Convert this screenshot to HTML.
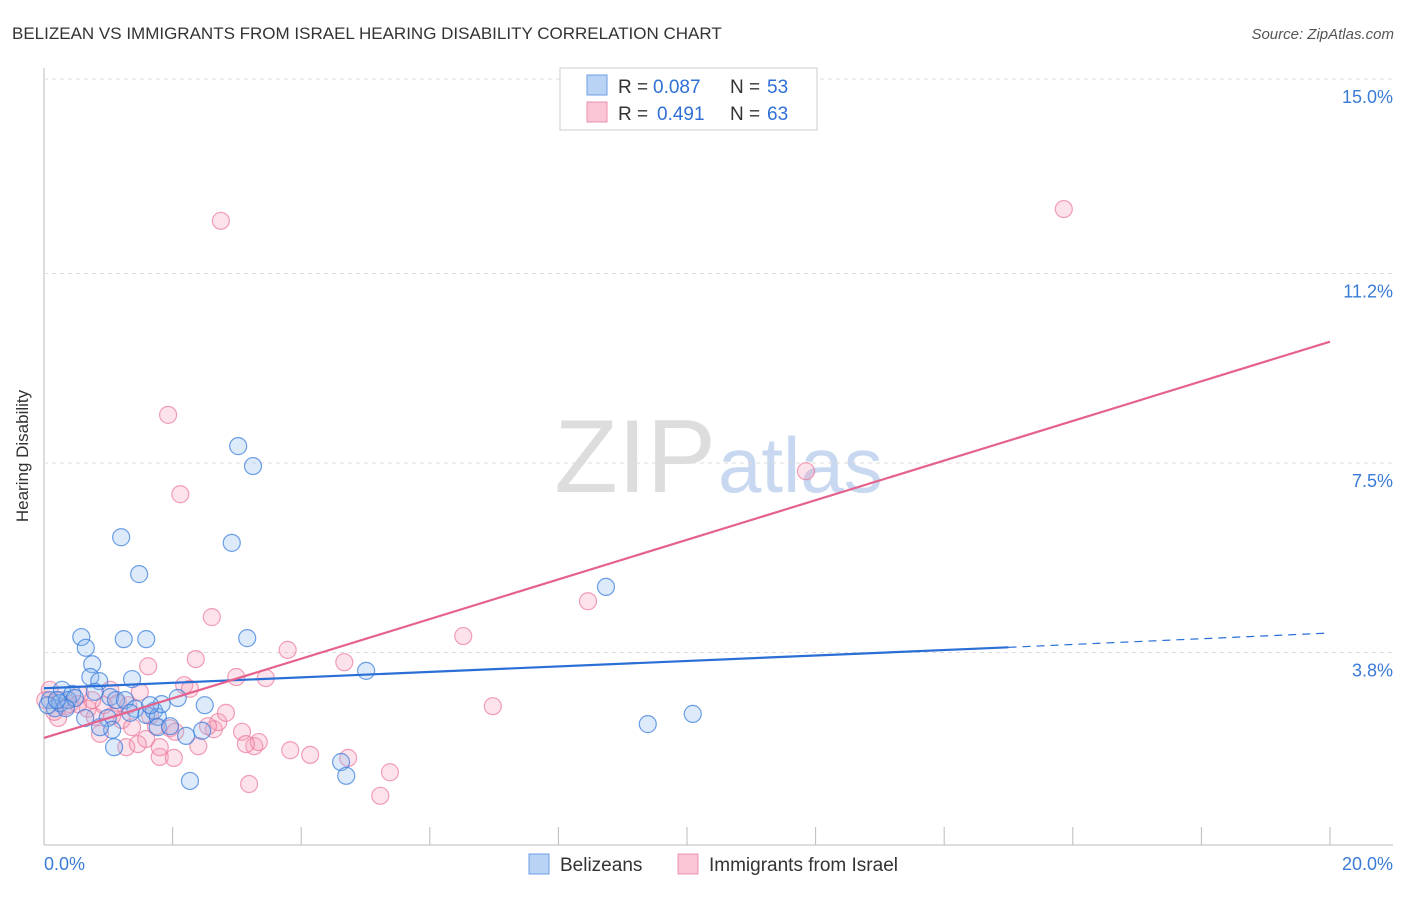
<!DOCTYPE html>
<html><head><meta charset="utf-8"><style>
body{margin:0;background:#fff;font-family:"Liberation Sans",sans-serif}
svg text{font-family:"Liberation Sans",sans-serif}
</style></head><body>
<svg width="1406" height="892" xmlns="http://www.w3.org/2000/svg" id="chart">
<text x="12" y="39" font-size="17" fill="#333">BELIZEAN VS IMMIGRANTS FROM ISRAEL HEARING DISABILITY CORRELATION CHART</text>
<text x="1394" y="39" font-size="15" fill="#555" font-style="italic" text-anchor="end">Source: ZipAtlas.com</text>
<text x="28" y="456" font-size="17" fill="#333" text-anchor="middle" transform="rotate(-90 28 456)">Hearing Disability</text>
<text x="716" y="492" font-size="104" fill="#ddd" text-anchor="end" font-family="Liberation Serif">ZIP</text>
<text x="718" y="492" font-size="78" fill="#c8d8f0">atlas</text>
<g id="grid"></g><g id="pts"></g><g id="lines"></g>
<g>
<rect x="560" y="68" width="257" height="62" fill="#fff" stroke="#ccc"/>
<rect x="587" y="75" width="20" height="20" fill="#b9d3f5" stroke="#6c9ee6"/>
<rect x="587" y="102" width="20" height="20" fill="#fac6d5" stroke="#ee8faa"/>
<text x="618" y="93" font-size="19" fill="#333">R =</text>
<text x="653" y="93" font-size="19" fill="#2f6fd6">0.087</text>
<text x="730" y="93" font-size="19" fill="#333">N =</text>
<text x="767" y="93" font-size="19" fill="#2f6fd6">53</text>
<text x="618" y="120" font-size="19" fill="#333">R =</text>
<text x="657" y="120" font-size="19" fill="#2f6fd6">0.491</text>
<text x="730" y="120" font-size="19" fill="#333">N =</text>
<text x="767" y="120" font-size="19" fill="#2f6fd6">63</text>
</g>
<g>
<rect x="529" y="854" width="20" height="20" fill="#b9d3f5" stroke="#6c9ee6"/>
<text x="560" y="871" font-size="19" fill="#333">Belizeans</text>
<rect x="678" y="854" width="20" height="20" fill="#fac6d5" stroke="#ee8faa"/>
<text x="709" y="871" font-size="19" fill="#333">Immigrants from Israel</text>
</g>
</svg>
<script>
const yTicks=[3.8,7.5,11.2,15.0];
const yTickLabels=["3.8%","7.5%","11.2%","15.0%"];
const xTickLabels=["0.0%","20.0%"];
const blueX=[0.58,0.65,0.75,0.72,0.86,0.79,0.28,0.44,0.09,0.17,0.25,0.37,0.48,0.06,1.03,1.12,1.26,0.99,1.06,1.09,1.24,1.20,1.48,1.59,1.37,1.42,1.59,1.71,1.77,1.83,1.77,1.96,2.08,2.21,2.50,2.46,2.27,2.92,3.02,3.25,3.16,4.62,4.70,5.01,8.74,9.39,10.09,0.87,0.64,0.34,0.20,1.34,1.65];
const blueY=[4.10,3.89,3.57,3.32,3.24,3.03,3.07,2.99,2.87,2.71,2.81,2.87,2.91,2.77,2.93,2.87,2.87,2.52,2.29,1.95,4.06,6.05,5.33,4.06,3.28,2.70,2.58,2.66,2.54,2.79,2.34,2.36,2.91,2.17,2.77,2.27,1.29,5.94,7.83,7.44,4.08,1.66,1.39,3.44,5.08,2.40,2.60,2.34,2.52,2.71,2.87,2.62,2.77];
const pinkX=[0.09,0.02,0.22,0.25,0.40,0.56,0.68,0.79,0.87,1.03,1.15,1.21,1.28,1.37,1.46,1.59,1.62,1.65,1.74,1.80,1.93,1.96,2.02,2.12,2.18,2.27,2.36,2.40,2.61,2.64,2.71,2.75,2.83,2.99,3.08,3.19,3.27,3.34,3.45,3.79,3.83,4.14,4.67,4.73,5.23,5.38,6.52,6.98,8.46,11.85,15.86,0.34,0.53,0.93,1.31,1.49,0.16,0.75,1.06,2.04,1.80,2.55,3.14];
const pinkY=[3.07,2.87,2.52,2.87,2.79,2.98,2.70,2.54,2.21,3.07,2.81,2.48,1.95,2.34,2.01,2.11,3.53,2.56,2.36,1.76,8.44,2.32,1.74,6.89,3.16,3.09,3.67,1.97,4.49,2.30,2.44,12.23,2.62,3.32,2.25,1.23,1.97,2.05,3.30,3.85,1.89,1.80,3.61,1.74,1.00,1.46,4.12,2.75,4.80,7.34,12.46,2.75,2.79,2.77,2.77,3.03,2.64,2.87,2.56,2.25,1.95,2.36,2.01];
const blueFit=[3.1,3.9,4.18];
const pinkFit=[2.13,9.87];
const NS="http://www.w3.org/2000/svg";
const X=v=>44+v*64.3, Y=v=>847-v*51.2;
function mk(t,a,p){const e=document.createElementNS(NS,t);for(const k in a)e.setAttribute(k,a[k]);p.appendChild(e);return e;}
const grid=document.getElementById('grid');
let ln=mk('line',{x1:44,y1:68,x2:44,y2:845,stroke:'#bbb'},grid);


ln=mk('line',{x1:44,y1:845,x2:1393,y2:845,stroke:'#bbb'},grid);


yTicks.forEach((t,i)=>{
 const g=mk('line',{x1:44,x2:1393,y1:Y(t),y2:Y(t),stroke:'#ddd','stroke-dasharray':'4,4'},grid);
 
 
 const tx=mk('text',{x:1393,y:Y(t)+24,'font-size':18,fill:'#3a7bd5','text-anchor':'end'},grid);
 tx.textContent=yTickLabels[i];
 
 
});
for(let i=0;i<=10;i++){
 const t=mk('line',{x1:X(i*2),x2:X(i*2),y1:827,y2:845,stroke:'#bbb'},grid);
 
 
}
[[0,44,'start'],[20,1393,'end']].forEach((d,i)=>{
 const tx=mk('text',{x:d[1],y:870,'font-size':18,fill:'#3a7bd5','text-anchor':d[2]},grid);
 tx.textContent=xTickLabels[i];
 
 
});
const pts=document.getElementById('pts');
pinkX.forEach((v,i)=>{
 const c=mk('circle',{cx:X(v),cy:Y(pinkY[i]),r:8.5,fill:'rgba(246,160,186,0.3)',stroke:'rgba(236,120,155,0.7)','stroke-width':1.2},pts);
 
 
});
blueX.forEach((v,i)=>{
 const c=mk('circle',{cx:X(v),cy:Y(blueY[i]),r:8.5,fill:'rgba(140,185,240,0.3)',stroke:'rgba(50,120,220,0.7)','stroke-width':1.2},pts);
 
 
});
const L=document.getElementById('lines');
let l=mk('line',{x1:X(0),y1:Y(blueFit[0]),x2:X(15),y2:Y(blueFit[1]),stroke:'#2a6fd6','stroke-width':2.2},L);


l=mk('line',{x1:X(15),y1:Y(blueFit[1]),x2:X(20),y2:Y(blueFit[2]),stroke:'#2a6fd6','stroke-width':1.2,'stroke-dasharray':'8,6'},L);


l=mk('line',{x1:X(0),y1:Y(pinkFit[0]),x2:X(20),y2:Y(pinkFit[1]),stroke:'#e5628e','stroke-width':2.2},L);


</script>
</body></html>
